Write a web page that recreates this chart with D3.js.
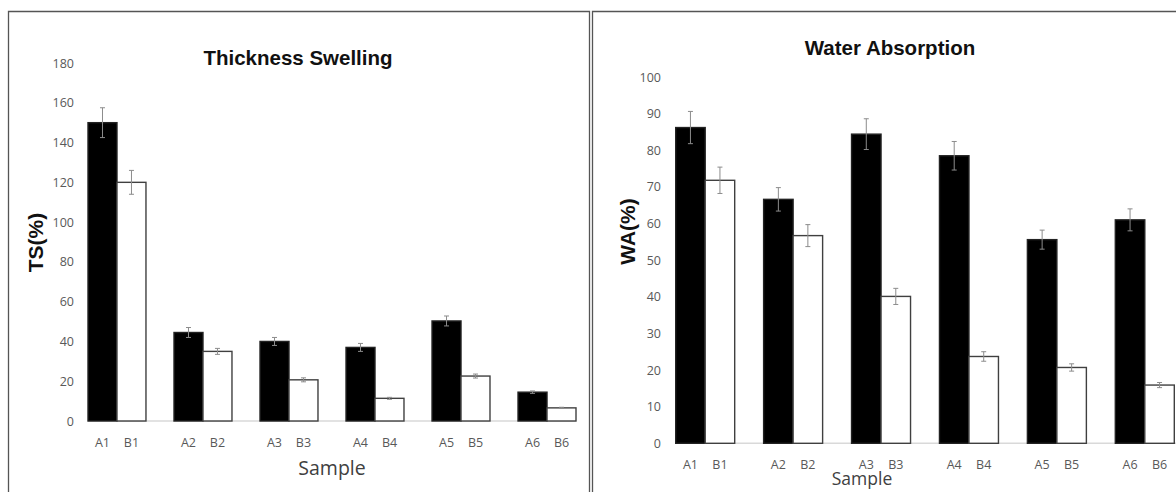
<!DOCTYPE html>
<html><head><meta charset="utf-8">
<script src="https://cdn.jsdelivr.net/npm/d3@7"></script>
<style>body{margin:0;background:#fff}svg{display:block}</style>
</head><body>
<svg id="c" width="1176" height="492"></svg>
<script>
const groups = ["1","2","3","4","5","6"];
const seriesKeys = ["A","B"];
const tsA = [150, 44.5, 40, 37, 50.3, 14.5];
const tsAErr = [7.5, 2.5, 2, 2, 2.5, 0.6];
const tsB = [120, 35, 20.7, 11.4, 22.6, 6.6];
const tsBErr = [6, 1.5, 1, 0.5, 1, 0.3];
const waA = [86.2, 66.6, 84.4, 78.5, 55.6, 61];
const waAErr = [4.4, 3.2, 4.2, 3.9, 2.6, 3];
const waB = [71.8, 56.7, 40.1, 23.7, 20.7, 15.9];
const waBErr = [3.6, 3, 2.2, 1.3, 1, 0.7];
const tsTicks = [0,20,40,60,80,100,120,140,160,180];
const waTicks = [0,10,20,30,40,50,60,70,80,90,100];

const svg = d3.select("#c");
const tickFont = "'Open Sans', 'DejaVu Sans', sans-serif";
const boldFont = "'Liberation Sans', Arial, sans-serif";

// panel frames
svg.append("path").attr("d","M8.5,492 V11.5 H589.5 V492").attr("fill","none").attr("stroke","#555").attr("stroke-width",1.3);
svg.append("path").attr("d","M592.5,492 V11.5 H1176").attr("fill","none").attr("stroke","#555").attr("stroke-width",1.3);

function drawChart(cfg){
  const g = svg.append("g");
  const x = d3.scaleBand().domain(groups).range(cfg.xr).paddingInner(cfg.pad).paddingOuter(0);
  const xs = d3.scaleBand().domain(seriesKeys).range([0, x.bandwidth()]).padding(0);
  const y = d3.scaleLinear().domain(cfg.yd).range(cfg.yr);

  // y tick labels
  const yAxis = d3.axisLeft(y).tickValues(cfg.ticks).tickSize(0).tickPadding(0);
  const ya = g.append("g").attr("transform",`translate(${cfg.tickX},0)`).call(yAxis);
  ya.select(".domain").remove();
  ya.selectAll("text").attr("font-family",tickFont).attr("font-size",12.5).attr("fill","#595959");

  // baseline
  g.append("line").attr("x1",cfg.baseX[0]).attr("x2",cfg.baseX[1]).attr("y1",y(0)).attr("y2",y(0))
    .attr("stroke","#d9d9d9").attr("stroke-width",1.5);

  const data = [];
  groups.forEach((gr,i)=>{
    data.push({g:gr,k:"A",v:cfg.A[i],e:cfg.AE[i]});
    data.push({g:gr,k:"B",v:cfg.B[i],e:cfg.BE[i]});
  });
  g.selectAll("rect.bar").data(data).join("rect").attr("class","bar")
    .attr("x",d=>x(d.g)+xs(d.k)).attr("width",xs.bandwidth())
    .attr("y",d=>y(d.v)).attr("height",d=>y(0)-y(d.v))
    .attr("fill",d=>d.k==="A"?"#000":"#fff")
    .attr("stroke",d=>d.k==="A"?"#222":"#404040").attr("stroke-width",1.4);

  // error bars
  const eb = g.selectAll("g.err").data(data).join("g").attr("class","err")
    .attr("transform",d=>`translate(${x(d.g)+xs(d.k)+xs.bandwidth()/2},0)`);
  eb.append("line").attr("y1",d=>y(d.v+d.e)).attr("y2",d=>y(d.v-d.e)).attr("stroke","#8c8c8c").attr("stroke-width",1);
  eb.append("line").attr("x1",-2.5).attr("x2",2.5).attr("y1",d=>y(d.v+d.e)).attr("y2",d=>y(d.v+d.e)).attr("stroke","#8c8c8c").attr("stroke-width",1);
  eb.append("line").attr("x1",-2.5).attr("x2",2.5).attr("y1",d=>y(d.v-d.e)).attr("y2",d=>y(d.v-d.e)).attr("stroke","#8c8c8c").attr("stroke-width",1);

  // x tick labels
  g.selectAll("text.xl").data(data).join("text").attr("class","xl")
    .attr("x",d=>x(d.g)+xs(d.k)+xs.bandwidth()/2).attr("y",cfg.xlabY)
    .attr("text-anchor","middle").attr("font-family",tickFont).attr("font-size",12.5).attr("fill","#595959")
    .text(d=>d.k+d.g);

  // title
  g.append("text").attr("x",cfg.titleX).attr("y",cfg.titleY).attr("text-anchor","middle")
    .attr("font-family",boldFont).attr("font-weight","bold").attr("font-size",20.5).attr("fill","#111").text(cfg.title);
  // x axis title
  g.append("text").attr("x",cfg.xtX).attr("y",cfg.xtY).attr("text-anchor","middle")
    .attr("font-family",tickFont).attr("font-size",cfg.xtSize).attr("fill","#404040").text("Sample");
  // y axis title
  g.append("text").attr("transform",`translate(${cfg.ytX},${cfg.ytY}) rotate(-90)`).attr("text-anchor","middle")
    .attr("font-family",boldFont).attr("font-weight","bold").attr("font-size",21).attr("fill","#111").text(cfg.ytitle);
}

drawChart({xr:[88,576], pad:0.326, yd:[0,180], yr:[421,63], ticks:tsTicks, tickX:74,
  baseX:[88,576], A:tsA, AE:tsAErr, B:tsB, BE:tsBErr, xlabY:447,
  title:"Thickness Swelling", titleX:298, titleY:65, xtX:332, xtY:475, xtSize:19.5,
  ytitle:"TS(%)", ytX:43, ytY:242.5});

drawChart({xr:[675.7,1174.3], pad:0.329, yd:[0,100], yr:[443.3,77], ticks:waTicks, tickX:661,
  baseX:[675.7,1176], A:waA, AE:waAErr, B:waB, BE:waBErr, xlabY:469,
  title:"Water Absorption", titleX:890, titleY:55, xtX:862, xtY:485, xtSize:17.5,
  ytitle:"WA(%)", ytX:635, ytY:231.5});
</script>
</body></html>
